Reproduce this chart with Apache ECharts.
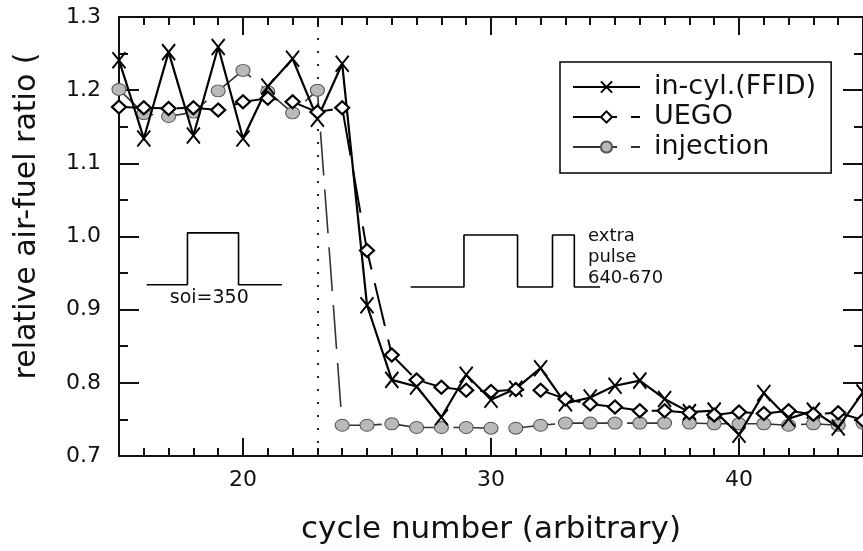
<!DOCTYPE html>
<html>
<head>
<meta charset="utf-8">
<script src="https://cdn.jsdelivr.net/npm/echarts@6/dist/echarts.min.js"></script>
<style>
  html, body { margin: 0; padding: 0; background: #fff; }
  #chart { width: 863px; height: 551px; }
</style>
</head>
<body>
<div id="chart"></div>
<script>
// Engine cycles shown on the x axis
const cycles = [15, 16, 17, 18, 19, 20, 21, 22, 23, 24, 25, 26, 27, 28, 29, 30,
                31, 32, 33, 34, 35, 36, 37, 38, 39, 40, 41, 42, 43, 44, 45];

// Relative air-fuel ratio measured in-cylinder by the fast FID
const ffid = [1.241, 1.134, 1.252, 1.138, 1.259, 1.134, 1.205, 1.243, 1.161, 1.236,
              0.906, 0.804, 0.795, 0.753, 0.811, 0.777, 0.792, 0.820, 0.772, 0.780,
              0.796, 0.803, 0.778, 0.760, 0.762, 0.729, 0.786, 0.751, 0.762, 0.739, 0.787];

// Relative air-fuel ratio from the UEGO sensor
const uego = [1.177, 1.176, 1.175, 1.176, 1.173, 1.184, 1.189, 1.184, 1.170, 1.176,
              0.981, 0.838, 0.804, 0.794, 0.790, 0.788, 0.791, 0.790, 0.778, 0.771,
              0.767, 0.762, 0.762, 0.759, 0.756, 0.760, 0.758, 0.762, 0.757, 0.759, 0.749];

// Relative air-fuel ratio set by the injection
const injection = [1.201, 1.168, 1.164, 1.170, 1.199, 1.227, 1.198, 1.169, 1.200, 0.742,
                   0.742, 0.744, 0.739, 0.739, 0.739, 0.738, 0.738, 0.742, 0.745, 0.745,
                   0.745, 0.745, 0.745, 0.745, 0.744, 0.744, 0.744, 0.742, 0.744, 0.742, 0.745];

// Cycle where the injection timing is switched
const switchCycle = 23;

// Labelled x ticks
const xTickLabels = [20, 30, 40];

// Schematic injection pulse traces (cycle, ratio) drawn inside the plot
const soiPulseX = [16.12, 17.76, 17.76, 19.82, 19.82, 21.57];
const soiPulseY = [0.934, 0.934, 1.005, 1.005, 0.934, 0.934];
const extraPulseX = [26.76, 28.91, 28.91, 31.07, 31.07, 32.48, 32.48, 33.36, 33.36, 34.40];
const extraPulseY = [0.931, 0.931, 1.002, 1.002, 0.931, 0.931, 1.002, 1.002, 0.931, 0.931];

const seriesNames = ['in-cyl.(FFID)', 'UEGO', 'injection'];

const FONT = 'DejaVu Sans';
const INK = '#111';

const zip = (xs, ys) => xs.map((x, i) => [x, ys[i]]);

const chart = echarts.init(document.getElementById('chart'), null, { renderer: 'canvas' });

const baseX = {
  type: 'value', min: 15, max: 45, gridIndex: 0,
  splitLine: { show: false },
  axisLine: { show: true, onZero: false, lineStyle: { color: INK, width: 2 } }
};

const baseY = {
  type: 'value', min: 0.7, max: 1.3, interval: 0.1,
  splitLine: { show: false },
  axisLine: { show: true, onZero: false, lineStyle: { color: INK, width: 2 } },
  axisTick: { show: true, inside: true, length: 20, lineStyle: { color: INK, width: 2 } },
  minorTick: { show: true, splitNumber: 2, length: 9, lineStyle: { color: INK, width: 2 } }
};

const option = {
  backgroundColor: '#fff',
  animation: false,
  grid: { left: 119, top: 17, right: 0, bottom: 95, containLabel: false },
  xAxis: [
    Object.assign({}, baseX, {
      position: 'bottom', interval: 1,
      axisTick: { show: true, inside: true, length: 8, lineStyle: { color: INK, width: 2 } },
      axisLabel: {
        show: true, customValues: xTickLabels, margin: 13,
        fontFamily: FONT, fontSize: 22, color: INK
      }
    }),
    Object.assign({}, baseX, {
      position: 'bottom',
      axisLine: { show: false },
      axisTick: { show: true, inside: true, length: 18, customValues: xTickLabels,
                  lineStyle: { color: INK, width: 2 } },
      axisLabel: { show: false }
    }),
    Object.assign({}, baseX, {
      position: 'top', interval: 1,
      axisTick: { show: true, inside: true, length: 8, lineStyle: { color: INK, width: 2 } },
      axisLabel: { show: false }
    }),
    Object.assign({}, baseX, {
      position: 'top',
      axisLine: { show: false },
      axisTick: { show: true, inside: true, length: 18, customValues: xTickLabels,
                  lineStyle: { color: INK, width: 2 } },
      axisLabel: { show: false }
    })
  ],
  yAxis: [
    Object.assign({}, baseY, {
      position: 'left',
      axisLabel: {
        show: true, margin: 18, showMinLabel: true, showMaxLabel: true,
        fontFamily: FONT, fontSize: 22, color: INK,
        formatter: v => v.toFixed(1)
      }
    }),
    Object.assign({}, baseY, {
      position: 'right',
      axisLabel: { show: false }
    })
  ],
  legend: {
    data: seriesNames,
    left: 560, top: 62,
    orient: 'vertical',
    padding: [10, 15, 11, 12],
    itemGap: 0,
    itemWidth: 67,
    itemHeight: 14,
    borderColor: '#000',
    borderWidth: 1.5,
    backgroundColor: '#fff',
    inactiveColor: '#111',
    selectedMode: false,
    textStyle: {
      fontFamily: FONT, fontSize: 27, color: INK, lineHeight: 30,
      padding: [0, 0, 0, 9]
    }
  },
  series: [
    {
      name: seriesNames[0],
      type: 'line',
      data: zip(cycles, ffid),
      symbol: 'path://M0,0L10,12M10,0L0,12',
      symbolSize: [13, 16],
      showAllSymbol: true,
      lineStyle: { color: '#000', width: 2.2 },
      itemStyle: { color: '#000', borderColor: '#000', borderWidth: 2 },
      z: 4,
      markLine: {
        silent: true,
        symbol: ['none', 'none'],
        label: { show: false },
        lineStyle: { color: '#222', width: 2, type: [2, 11], cap: 'butt' },
        data: [{ xAxis: switchCycle }],
        z: 1
      }
    },
    {
      name: seriesNames[1],
      type: 'line',
      data: zip(cycles, uego),
      symbol: 'diamond',
      symbolSize: [14, 13],
      showAllSymbol: true,
      lineStyle: { color: '#000', width: 2, type: [44, 14] },
      itemStyle: { color: '#fff', borderColor: '#000', borderWidth: 2.2 },
      z: 5
    },
    {
      name: seriesNames[2],
      type: 'line',
      data: zip(cycles, injection),
      symbol: 'circle',
      symbolSize: [14, 12],
      showAllSymbol: true,
      lineStyle: { color: '#333', width: 1.6, type: [44, 14] },
      itemStyle: { color: '#b9b9b9', borderColor: '#555', borderWidth: 1 },
      z: 3
    },
    {
      name: 'soi pulse',
      type: 'line',
      data: zip(soiPulseX, soiPulseY),
      symbol: 'none',
      silent: true,
      lineStyle: { color: '#000', width: 1.6 },
      z: 2
    },
    {
      name: 'extra pulse',
      type: 'line',
      data: zip(extraPulseX, extraPulseY),
      symbol: 'none',
      silent: true,
      lineStyle: { color: '#000', width: 1.6 },
      z: 2
    }
  ]
};

chart.setOption(option);

// Text annotations and axis titles
const soiPos = chart.convertToPixel({ gridIndex: 0 }, [18.64, 0.916]);
const extraPos = chart.convertToPixel({ gridIndex: 0 }, [33.91, 0.972]);

chart.setOption({
  graphic: [
    {
      type: 'text', x: soiPos[0], y: soiPos[1], z: 10,
      style: { text: 'soi=350', font: '19px "DejaVu Sans"', fill: INK,
               textAlign: 'center', textVerticalAlign: 'middle' }
    },
    {
      type: 'text', x: extraPos[0], y: extraPos[1], z: 10,
      style: { text: 'extra\npulse\n640-670', font: '18px "DejaVu Sans"', fill: INK,
               lineHeight: 21, textAlign: 'left', textVerticalAlign: 'middle' }
    },
    {
      type: 'text', x: 491, y: 530, z: 10,
      style: { text: 'cycle number (arbitrary)', font: '31px "DejaVu Sans"', fill: INK,
               textAlign: 'center', textVerticalAlign: 'middle' }
    },
    {
      type: 'text', x: 27, y: 216, rotation: Math.PI / 2, z: 10,
      style: { text: 'relative air-fuel ratio (', font: '30px "DejaVu Sans"', fill: INK,
               textAlign: 'center', textVerticalAlign: 'middle' }
    }
  ]
});
</script>
</body>
</html>
